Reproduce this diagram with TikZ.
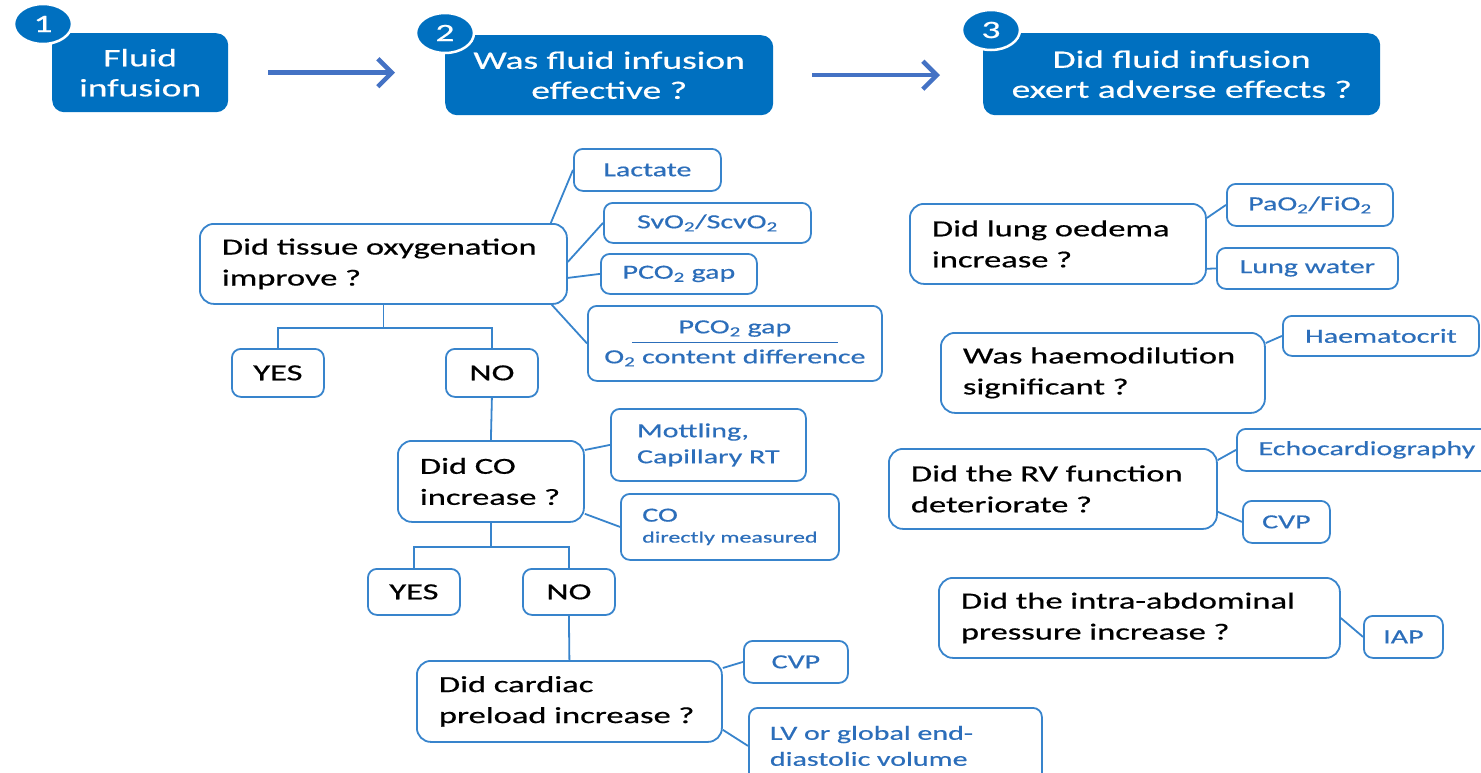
\documentclass[tikz,border=0pt]{standalone}
\usepackage{fontspec}
\setmainfont{Carlito}[FakeStretch=1.5, FakeBold=0.6]
\usetikzlibrary{arrows.meta,shapes.geometric}

\definecolor{stageblue}{RGB}{0,112,192}
\definecolor{frameblue}{RGB}{56,132,204}
\definecolor{itemblue}{RGB}{44,110,186}
\definecolor{flowblue}{RGB}{68,114,196}

\tikzset{
    stage/.style={fill=stageblue, rounded corners=12pt, text=white, align=center, anchor=north west, inner sep=0pt, font=\fontsize{25}{30}\selectfont},
    badge/.style={ellipse, fill=stageblue, draw=white, line width=2.5pt, text=white, minimum width=58pt, minimum height=40pt, inner sep=0pt, font=\fontsize{25}{25}\selectfont},
    question/.style={draw=frameblue, line width=1.8pt, rounded corners=14pt, align=left, inner xsep=22pt, anchor=north west, font=\fontsize{23}{31}\selectfont},
    answer/.style={draw=frameblue, line width=1.8pt, rounded corners=9pt, anchor=north west, inner sep=0pt, font=\fontsize{23}{28}\selectfont},
    item/.style={draw=frameblue, line width=1.8pt, rounded corners=9pt, align=left, anchor=north west, inner sep=0pt, text=itemblue, font=\fontsize{20}{26}\selectfont},
    link/.style={frameblue, line width=1.8pt},
    flow/.style={-{Straight Barb[length=14pt,width=28pt]}, line width=4.5pt, flowblue},
}
\newcommand{\stepbadge}[3]{\node[badge] (#1) at #2 {#3};}

\begin{document}
\begin{tikzpicture}[x=1pt, y=-1pt]
    \clip (0,0) rectangle (1481,772);

    % Top row: the three stages
    \node[stage, minimum width=176pt, minimum height=79pt] (fluid) at (52,33) {Fluid\\infusion};
    \node[stage, minimum width=328pt, minimum height=80pt] (effective) at (445,35) {Was fluid infusion\\effective ?};
    \node[stage, minimum width=397pt, minimum height=82pt] (adverse) at (983,33) {Did fluid infusion\\exert adverse effects ?};
    \stepbadge{one}{(43,24)}{1}
    \stepbadge{two}{(445,33)}{2}
    \stepbadge{three}{(991,30)}{3}
    \draw[flow, shorten <=40pt, shorten >=50pt] (fluid.east) -- (fluid.east -| effective.west);
    \draw[flow, shorten <=39pt, shorten >=43pt] (effective.east) -- (effective.east -| adverse.west);

    % Stage 2: tissue oxygenation
    \node[question, text width=323pt, minimum height=80pt] (oxy) at (199,223) {Did tissue oxygenation\\improve ?};
    \node[item, minimum width=147pt, minimum height=42pt] (lactate) at (573,148) {Lactate};
    \node[item, minimum width=207pt, minimum height=40pt] (svo) at (603,202) {SvO\textsubscript{2}/ScvO\textsubscript{2}};
    \node[item, minimum width=156pt, minimum height=40pt] (gap) at (600,253) {PCO\textsubscript{2} gap};
    \node[item, align=center, minimum width=294pt, minimum height=75pt] (ratio) at (587,305)
        {PCO\textsubscript{2} gap\\[-16pt]\rule{206pt}{1.5pt}\\[-6pt]O\textsubscript{2} content difference};
    \draw[link] ([xshift=-17pt]oxy.north east) -- (lactate.west);
    \draw[link] ([yshift=2pt]oxy.east) -- (svo.west);
    \draw[link] ([yshift=-14pt]oxy.east) -- (gap.west);
    \draw[link] ([xshift=-16pt]oxy.south east) -- (ratio.west);

    \node[answer, minimum width=92pt, minimum height=48pt] (yesa) at (231,348) {YES};
    \node[answer, minimum width=92pt, minimum height=48pt] (noa) at (445,348) {NO};
    \draw[link] (oxy.south) -- ++(0,23) -| (yesa.north);
    \draw[link] (oxy.south) -- ++(0,23) -| (noa.north);

    % Stage 2: cardiac output
    \node[question, text width=142pt, minimum height=81pt] (co) at (397,440) {Did CO\\increase ?};
    \node[item, minimum width=195pt, minimum height=72pt] (mottling) at (610,408) {Mottling,\\Capillary RT};
    \node[item, minimum width=218pt, minimum height=66pt] (measured) at (620,493)
        {CO\\[-5pt]{\fontsize{16}{20}\selectfont directly measured}};
    \draw[link] (noa.south) -- (co.north);
    \draw[link] ([yshift=-10pt]co.north east) -- (mottling.west);
    \draw[link] ([yshift=9pt]co.south east) -- (measured.west);

    \node[answer, minimum width=92pt, minimum height=46pt] (yesb) at (367,568) {YES};
    \node[answer, minimum width=92pt, minimum height=46pt] (nob) at (522,568) {NO};
    \draw[link] (co.south) -- ++(0,24) -| (yesb.north);
    \draw[link] (co.south) -- ++(0,24) -| (nob.north);

    % Stage 2: cardiac preload
    \node[question, text width=261pt, minimum height=81pt] (preload) at (416,660) {Did cardiac\\preload increase ?};
    \node[item, minimum width=104pt, minimum height=42pt] (cvpa) at (743,640) {CVP};
    \node[item, text width=251pt, inner xsep=21pt, minimum height=76pt] (volume) at (748,707) {LV or global end-\\diastolic volume};
    \draw[link] (nob.south) -- (preload.north);
    \draw[link] ([yshift=-8pt]preload.north east) -- (cvpa.west);
    \draw[link] ([yshift=13pt]preload.south east) -- (volume.west);

    % Stage 3: adverse effects
    \node[question, text width=252pt, minimum height=80pt] (lung) at (909,203) {Did lung oedema\\increase ?};
    \node[item, minimum width=166pt, minimum height=42pt] (pao) at (1226,183) {PaO\textsubscript{2}/FiO\textsubscript{2}};
    \node[item, minimum width=181pt, minimum height=41pt] (water) at (1216,247) {Lung water};
    \draw[link] ([yshift=-15pt]lung.north east) -- (pao.west);
    \draw[link] ([yshift=16pt]lung.south east) -- (water.west);

    \node[question, text width=280pt, minimum height=80pt] (haemo) at (940,332) {Was haemodilution\\significant ?};
    \node[item, minimum width=196pt, minimum height=40pt] (hct) at (1282,315) {Haematocrit};
    \draw[link] ([yshift=-11pt]haemo.north east) -- (hct.west);

    \node[question, text width=284pt, minimum height=80pt] (rv) at (888,448) {Did the RV function\\deteriorate ?};
    \node[item, minimum width=260pt, minimum height=42pt] (echo) at (1236,428) {Echocardiography};
    \node[item, minimum width=87pt, minimum height=42pt] (cvpb) at (1242,500) {CVP};
    \draw[link] ([yshift=-12pt]rv.north east) -- (echo.west);
    \draw[link] ([yshift=18pt]rv.south east) -- (cvpb.west);

    \node[question, text width=357pt, minimum height=80pt] (abdo) at (938,577) {Did the intra-abdominal\\pressure increase ?};
    \node[item, minimum width=79pt, minimum height=42pt] (iap) at (1363,615) {IAP};
    \draw[link] ([yshift=-41pt]abdo.north east) -- (iap.west);
\end{tikzpicture}
\end{document}
